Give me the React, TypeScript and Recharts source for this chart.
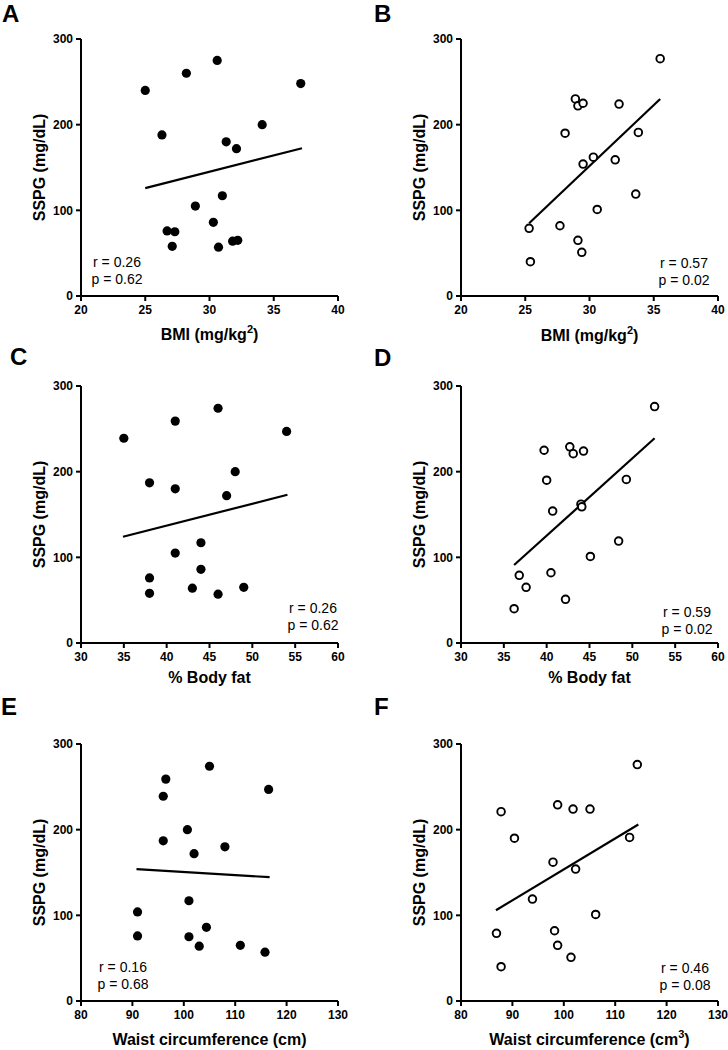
import React from "react";
import { ScatterChart, Scatter, XAxis, YAxis, ReferenceLine } from "recharts";

// filled dots = left column group, open dots = right column group
const bmiA = [25.0, 28.2, 30.6, 37.1, 26.3, 34.1, 31.3, 32.1, 31.0, 28.9, 30.3, 26.7, 27.3, 27.1, 30.7, 31.8, 32.2];
const sspgA = [240, 260, 275, 248, 188, 200, 180, 172, 117, 105, 86, 76, 75, 58, 57, 64, 65];
const fitA = { x: [25.0, 37.2], y: [126, 172.5] };

const bmiB = [35.5, 28.9, 29.1, 29.5, 32.3, 28.1, 33.8, 30.3, 29.5, 32.0, 33.6, 30.6, 25.3, 27.7, 29.1, 29.4, 25.4];
const sspgB = [277, 230, 222, 225, 224, 190, 191, 162, 154, 159, 119, 101, 79, 82, 65, 51, 40];
const fitB = { x: [25.3, 35.5], y: [85, 230] };

const fatC = [35, 41, 46, 54, 38, 48, 41, 47, 44, 41, 44, 38, 38, 43, 46, 49];
const sspgC = [239, 259, 274, 247, 187, 200, 180, 172, 117, 105, 86, 76, 58, 64, 57, 65];
const fitC = { x: [34.9, 54.1], y: [124, 173] };

const fatD = [52.6, 39.7, 42.7, 43.1, 44.3, 40.0, 49.3, 44.0, 44.1, 40.7, 48.4, 45.1, 36.8, 40.5, 37.6, 42.2, 36.2];
const sspgD = [276, 225, 229, 221, 224, 190, 191, 162, 159, 154, 119, 101, 79, 82, 65, 51, 40];
const fitD = { x: [36.2, 52.6], y: [91, 239] };

const waistE = [105, 96.5, 96, 116.5, 100.7, 96, 108, 102, 101, 91, 91, 101, 104.4, 103, 111, 115.8];
const sspgE = [274, 259, 239, 247, 200, 187, 180, 172, 117, 104, 76, 75, 86, 64, 65, 57];
const fitE = { x: [90.8, 116.7], y: [154, 144.5] };

const waistF = [114.3, 87.8, 98.8, 101.8, 105.1, 90.4, 112.8, 97.9, 102.3, 93.9, 106.2, 86.9, 98.2, 98.8, 101.4, 87.8];
const sspgF = [276, 221, 229, 224, 224, 190, 191, 162, 154, 119, 101, 79, 82, 65, 51, 40];
const fitF = { x: [86.8, 114.5], y: [106, 206] };

const bmiTicks = [20, 25, 30, 35, 40];
const fatTicks = [30, 35, 40, 45, 50, 55, 60];
const waistTicks = [80, 90, 100, 110, 120, 130];
const sspgTicks = [0, 100, 200, 300];

const rValues = ["0.26", "0.57", "0.26", "0.59", "0.16", "0.46"];
const pValues = ["0.62", "0.02", "0.62", "0.02", "0.68", "0.08"];

const FONT = "'Liberation Sans', Arial, Helvetica, sans-serif";
const PLOT_W = 257;
const PLOT_H = 257;

const FilledDot = (props: any) => <circle cx={props.cx} cy={props.cy} r={4.6} fill="#000" />;
const OpenDot = (props: any) => (
  <circle cx={props.cx} cy={props.cy} r={3.8} fill="#fff" stroke="#000" strokeWidth={1.9} />
);

const panels = [
  { letter: "A", x: bmiA, y: sspgA, fit: fitA, ticks: bmiTicks, open: false, left: 81, top: 39,
    xTitle: "BMI (mg/kg", sup: "2", letterX: 2, letterY: 22, xTitleY: 340, statX: 117, statY: 267 },
  { letter: "B", x: bmiB, y: sspgB, fit: fitB, ticks: bmiTicks, open: true, left: 461, top: 39,
    xTitle: "BMI (mg/kg", sup: "2", letterX: 374, letterY: 22, xTitleY: 341, statX: 684, statY: 268 },
  { letter: "C", x: fatC, y: sspgC, fit: fitC, ticks: fatTicks, open: false, left: 81, top: 386,
    xTitle: "% Body fat", sup: "", letterX: 10, letterY: 365, xTitleY: 683, statX: 313, statY: 613 },
  { letter: "D", x: fatD, y: sspgD, fit: fitD, ticks: fatTicks, open: true, left: 461, top: 386,
    xTitle: "% Body fat", sup: "", letterX: 374, letterY: 366, xTitleY: 683, statX: 687, statY: 617 },
  { letter: "E", x: waistE, y: sspgE, fit: fitE, ticks: waistTicks, open: false, left: 81, top: 744,
    xTitle: "Waist circumference (cm)", sup: "", letterX: 1, letterY: 715, xTitleY: 1045, statX: 123, statY: 972 },
  { letter: "F", x: waistF, y: sspgF, fit: fitF, ticks: waistTicks, open: true, left: 461, top: 744,
    xTitle: "Waist circumference (cm", sup: "3", letterX: 374, letterY: 715, xTitleY: 1045, statX: 685, statY: 973 },
];

const tickStyle = { fill: "#000", fontSize: 12, fontWeight: 700, fontFamily: FONT };
const lineStyle = { stroke: "#000", strokeWidth: 2 };

function Panel({ p }: { p: (typeof panels)[number] }) {
  const data = p.x.map((x, i) => ({ x, y: p.y[i] }));
  const ticks = p.ticks;
  return (
    <div style={{ position: "absolute", left: p.left - 81, top: p.top - 39 }}>
      <ScatterChart width={348} height={320} margin={{ top: 39, right: 10, left: 41, bottom: 4 }}>
        <XAxis
          type="number"
          dataKey="x"
          domain={[ticks[0], ticks[ticks.length - 1]]}
          ticks={ticks}
          interval={0}
          height={20}
          tickSize={5}
          tickMargin={4}
          tick={tickStyle}
          axisLine={lineStyle}
          tickLine={lineStyle}
        />
        <YAxis
          type="number"
          dataKey="y"
          domain={[0, 300]}
          ticks={sspgTicks}
          interval={0}
          width={40}
          tickSize={5}
          tickMargin={3}
          tick={tickStyle}
          axisLine={lineStyle}
          tickLine={lineStyle}
        />
        <ReferenceLine
          segment={[
            { x: p.fit.x[0], y: p.fit.y[0] },
            { x: p.fit.x[1], y: p.fit.y[1] },
          ]}
          stroke="#000"
          strokeWidth={2.2}
        />
        <Scatter data={data} shape={p.open ? OpenDot : FilledDot} isAnimationActive={false} />
      </ScatterChart>
    </div>
  );
}

export default function App() {
  return (
    <div
      style={{
        position: "absolute",
        left: 0,
        top: 0,
        width: 728,
        height: 1050,
        background: "#fff",
        overflow: "hidden",
        fontFamily: FONT,
      }}
    >
      {panels.map((p) => (
        <Panel key={p.letter} p={p} />
      ))}
      <svg
        width={728}
        height={1050}
        style={{ position: "absolute", left: 0, top: 0, pointerEvents: "none" }}
        fontFamily={FONT}
      >
        {panels.map((p, i) => (
          <g key={p.letter}>
            <text x={p.letterX} y={p.letterY} fontSize={24} fontWeight={700} fill="#000">
              {p.letter}
            </text>
            <text
              transform={`translate(${p.left - 36},${p.top + PLOT_H / 2}) rotate(-90)`}
              textAnchor="middle"
              fontSize={16}
              fontWeight={700}
              fill="#000"
            >
              SSPG (mg/dL)
            </text>
            <text
              x={p.left + PLOT_W / 2}
              y={p.xTitleY}
              textAnchor="middle"
              fontSize={16}
              fontWeight={700}
              fill="#000"
            >
              {p.xTitle}
              {p.sup ? (
                <>
                  <tspan dy={-7} fontSize={11}>
                    {p.sup}
                  </tspan>
                  <tspan dy={7}>)</tspan>
                </>
              ) : null}
            </text>
            <text x={p.statX} y={p.statY} textAnchor="middle" fontSize={14} fill="#000">
              r = {rValues[i]}
            </text>
            <text x={p.statX} y={p.statY + 17} textAnchor="middle" fontSize={14} fill="#000">
              p = {pValues[i]}
            </text>
          </g>
        ))}
      </svg>
    </div>
  );
}
